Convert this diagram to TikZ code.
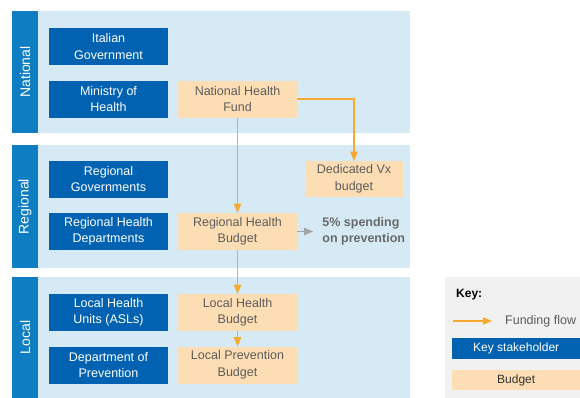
\documentclass[tikz,border=0pt]{standalone}
\usepackage{fontspec}
\setmainfont{Liberation Sans}
\usepackage{xcolor}
\usetikzlibrary{arrows, positioning, calc}
\definecolor{bandblue}{RGB}{213, 234, 244}
\definecolor{tabblue}{RGB}{14, 125, 194}
\definecolor{boxblue}{RGB}{0, 98, 176}
\definecolor{budgetorange}{RGB}{253, 222, 180}
\definecolor{flowamber}{RGB}{247, 170, 45}
\definecolor{keygrey}{RGB}{241, 241, 241}
\definecolor{textgrey}{RGB}{92, 92, 92}
\definecolor{notegrey}{RGB}{105, 105, 105}
\definecolor{pointergrey}{RGB}{165, 165, 165}
\tikzstyle{band} = [rectangle, anchor=north west, fill=bandblue, inner sep=0pt]
\tikzstyle{tab} = [rectangle, rotate=90, fill=tabblue, text=white, minimum height=26pt, inner sep=0pt, font=\fontsize{14}{16}\selectfont]
\tikzstyle{stakeholder} = [rectangle, minimum width=119pt, minimum height=37pt, text centered, align=center, fill=boxblue, text=white, inner sep=0pt, font=\fontsize{12.5}{16.5}\selectfont]
\tikzstyle{budget} = [rectangle, minimum width=119pt, minimum height=37pt, text centered, align=center, fill=budgetorange, text=textgrey, inner sep=0pt, font=\fontsize{12.5}{16.5}\selectfont]
\tikzstyle{flow} = [line width=1.1pt, ->, >=triangle 45, draw=flowamber]
\tikzstyle{pointer} = [line width=1.1pt, ->, >=triangle 45, draw=pointergrey]

\begin{document}
\begin{tikzpicture}[x=1pt, y=-1pt, node distance=52.5pt]
\useasboundingbox (0,0) rectangle (580,397);

% Government levels
\node (national) [band, minimum width=398pt, minimum height=122pt] at (12,11) {};
\node (regional) [band, minimum width=398pt, minimum height=123pt] at (12,145) {};
\node (local) [band, minimum width=398pt, minimum height=121pt] at (12,277) {};
\node (national_tab) [tab, minimum width=122pt] at (25,72) {National};
\node (regional_tab) [tab, minimum width=123pt] at (25,206.5) {Regional};
\node (local_tab) [tab, minimum width=121pt] at (25,337.5) {Local};

% Stakeholders
\node (italgov) [stakeholder] at (108.5,46.5) {Italian\\Government};
\node (ministry) [stakeholder, below of=italgov] {Ministry of\\Health};
\node (reggov) [stakeholder] at (108.5,179) {Regional\\Governments};
\node (rhd) [stakeholder, below of=reggov] {Regional Health\\Departments};
\node (lhu) [stakeholder] at (108.5,312.5) {Local Health\\Units (ASLs)};
\node (dop) [stakeholder, below of=lhu] {Department of\\Prevention};

% Budgets
\node (national_fund) [budget, right of=ministry, xshift=76.5pt] {National Health\\Fund};
\node (regional_budget) [budget, right of=rhd, xshift=76.5pt] {Regional Health\\Budget};
\node (local_budget) [budget, right of=lhu, xshift=76.5pt] {Local Health\\Budget};
\node (prevention_budget) [budget, right of=dop, xshift=76.5pt] {Local Prevention\\Budget};
\node (vx_budget) [budget, minimum width=98pt, minimum height=36pt] at (354,179) {Dedicated Vx\\budget};
\node (spending) [right=16pt of regional_budget, inner xsep=9pt, inner ysep=0pt, align=left, text=notegrey, font=\fontsize{12.5}{15.5}\selectfont\bfseries] {5\% spending\\on prevention};

% Funding flows
\draw [flow] (national_fund) -- (regional_budget);
\draw [flow] (national_fund.east) -| (vx_budget.north);
\draw [flow] (regional_budget) -- (local_budget);
\draw [flow] (local_budget) -- (prevention_budget);
\draw [pointer] (regional_budget.east) -- (spending.west);

% Key
\node (key_bg) [rectangle, anchor=north west, fill=keygrey, minimum width=136pt, minimum height=121pt, inner sep=0pt] at (445,277) {};
\node (key_title) [anchor=west, inner sep=0pt, font=\fontsize{12}{14}\selectfont\bfseries] at (456,295) {Key:};
\coordinate (flow_start) at (453,321);
\coordinate (flow_end) at (492,321);
\node (flow_label) [anchor=west, inner sep=0pt, text=textgrey, font=\fontsize{12.5}{14}\selectfont] at (505,321) {Funding flow};
\draw [flow] (flow_start) -- (flow_end);
\node (key_stakeholder) [stakeholder, anchor=north west, minimum width=128pt, minimum height=21pt, font=\fontsize{12}{14}\selectfont] at (452,338) {Key stakeholder};
\node (key_budget) [budget, anchor=north west, minimum width=128pt, minimum height=20pt, text=black!80, font=\fontsize{12}{14}\selectfont] at (452,370) {Budget};

\end{tikzpicture}
\end{document}
